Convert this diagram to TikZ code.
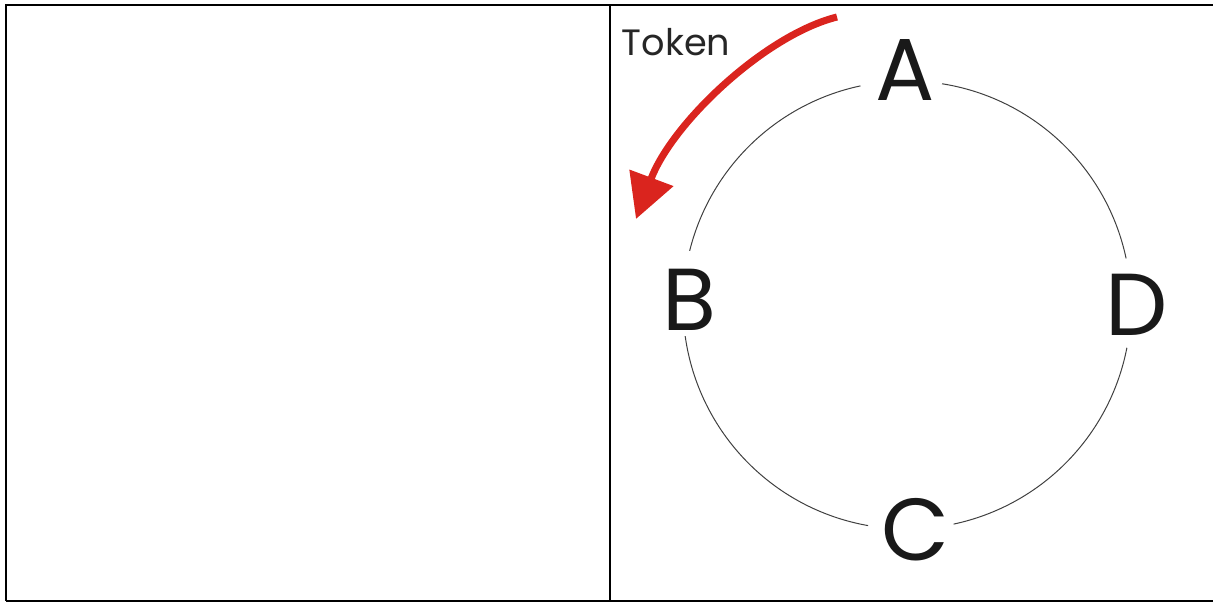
\documentclass[tikz,border=0pt]{standalone}
\usepackage{fontspec}
\setmainfont{Poppins}
\usetikzlibrary{arrows.meta}
\definecolor{tokenred}{RGB}{218,36,30}
\definecolor{ink}{RGB}{25,25,25}
\tikzset{
  frame/.style={line width=1.5pt, black},
  ring/.style={line width=0.75pt, black!75},
  letter/.style={font=\fontsize{66}{66}\selectfont, text=ink, inner sep=0pt},
  tokenlabel/.style={font=\fontsize{27.5}{28}\selectfont, text=black!85, inner sep=0pt},
  tokenarrow/.style={draw=tokenred, line width=5.3pt, -{Triangle[length=33pt,width=34pt]}, tokenred}
}
\begin{document}
\begin{tikzpicture}[x=0.75pt,y=0.75pt]
\useasboundingbox (0,0) rectangle (1213,601);
% table frame
\coordinate (tl) at (6,596);
\coordinate (tr) at (1213,596);
\coordinate (bl) at (6,0.5);
\coordinate (br) at (1213,0.5);
\coordinate (dt) at (609.5,596);
\coordinate (db) at (609.5,0.5);
\draw[frame] (tr) -- (tl) -- (bl);
\draw[frame] (bl) -- (br);
\draw[frame] (dt) -- (db);
% ring
\coordinate (O) at (907,296);
\draw[ring] ([shift={(81:224)}]O) arc[start angle=81, end angle=12, radius=224];
\draw[ring] ([shift={(-11:224)}]O) arc[start angle=-11, end angle=-78, radius=224];
\draw[ring] ([shift={(260:224)}]O) arc[start angle=260, end angle=188, radius=224];
\draw[ring] ([shift={(166:224)}]O) arc[start angle=166, end angle=102, radius=224];
% labels
\node[letter] (A) at (905,531) {A};
\node[letter] (B) at (689,301) {B};
\node[letter] (D) at (1137,296) {D};
\node[letter] (C) at (915,71) {C};
\node[tokenlabel] (T) at (676,559) {Token};
% token arrow
\coordinate (ts) at (837,584);
\coordinate (te) at (636,382);
\draw[tokenarrow] (ts) .. controls (765,566) and (672,478) .. (te);
\end{tikzpicture}
\end{document}
